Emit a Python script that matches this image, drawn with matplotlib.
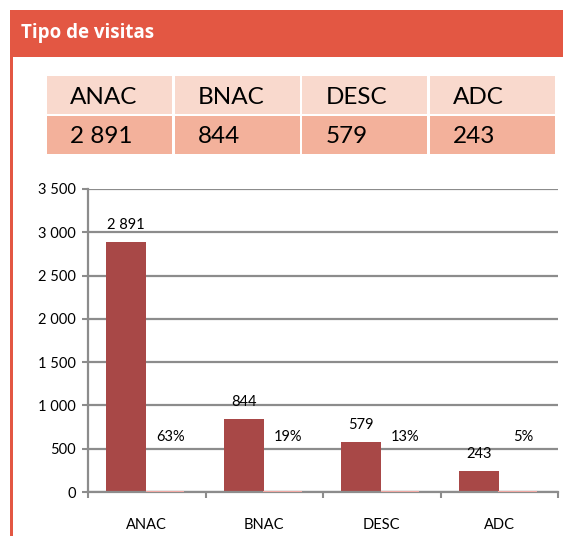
import matplotlib.pyplot as plt
import numpy as np
from matplotlib.patches import Rectangle

categorias = ['ANAC', 'BNAC', 'DESC', 'ADC']
visitas = [2891, 844, 579, 243]
porcentajes = [0.63, 0.19, 0.13, 0.05]
tabla_valores = ['2 891', '844', '579', '243']

W, H = 563, 536
fig = plt.figure(figsize=(W / 100, H / 100), dpi=100)
plt.rcParams['font.family'] = ['Lato', 'DejaVu Sans']

def fx(px):
    return px / W

def fy(py):
    return 1 - py / H

rojo = '#E35743'
# cabecera
fig.patches.append(Rectangle((fx(10), fy(57)), fx(553), 47 / H, transform=fig.transFigure,
                             facecolor=rojo, edgecolor='none'))
fig.patches.append(Rectangle((fx(10), 0), fx(3), fy(57), transform=fig.transFigure,
                             facecolor=rojo, edgecolor='none'))
fig.text(fx(21), fy(33), 'Tipo de visitas', color='white', fontsize=13.5,
         fontweight='bold', va='center', ha='left', family='Open Sans')

# tabla resumen
x0, ancho = 47, 125
for i, cat in enumerate(categorias):
    xl = x0 + i * (ancho + 2.7)
    fig.patches.append(Rectangle((fx(xl), fy(114)), fx(ancho), 38 / H,
                                 transform=fig.transFigure, facecolor='#F9D9CD', edgecolor='none'))
    fig.patches.append(Rectangle((fx(xl), fy(154)), fx(ancho), 38 / H,
                                 transform=fig.transFigure, facecolor='#F3B19B', edgecolor='none'))
    fig.text(fx(xl + 23), fy(97), cat, fontsize=17.5, va='center', ha='left')
    fig.text(fx(xl + 23), fy(136), tabla_valores[i], fontsize=17.5, va='center', ha='left')

# grafico de barras
ax = fig.add_axes([fx(88), 44 / H, fx(470), 303 / H])
x = np.arange(len(categorias))
ax.bar(x - 0.175, visitas, width=0.34, color='#A84847')
ax.bar(x + 0.155, porcentajes, width=0.33, color='#F2A9A4', edgecolor='#F2A9A4',
       linewidth=1.5, zorder=3)

for xi, v, p in zip(x, visitas, porcentajes):
    ax.text(xi - 0.175, v + 110, f'{v:,}'.replace(',', ' '), ha='center', va='bottom', fontsize=10.5)
    ax.text(xi + 0.2, 560, f'{round(p * 100)}%', ha='center', va='bottom', fontsize=10.5)

ax.set_xlim(-0.5, 3.5)
ax.set_ylim(0, 3500)
ax.set_yticks(np.arange(0, 3501, 500))
ax.set_yticklabels([f'{t:,}'.replace(',', ' ') for t in range(0, 3501, 500)], fontsize=10.5)
ax.set_xticks(x)
ax.set_xticklabels(categorias, fontsize=10.5)
ax.set_xticks(np.arange(-0.5, 4, 1), minor=True)
ax.tick_params(axis='x', which='major', length=0, pad=19)
ax.tick_params(axis='x', which='minor', length=4, width=1.5, color='#8C8C8C')
ax.tick_params(axis='y', length=4, width=1.5, color='#8C8C8C', pad=5)
ax.yaxis.grid(True, color='#8C8C8C', linewidth=1.6)
ax.set_axisbelow(True)
for s in ['top', 'right']:
    ax.spines[s].set_visible(False)
for s in ['left', 'bottom']:
    ax.spines[s].set_color('#8C8C8C')
    ax.spines[s].set_linewidth(1.6)

fig.savefig('out.png', dpi=100)
